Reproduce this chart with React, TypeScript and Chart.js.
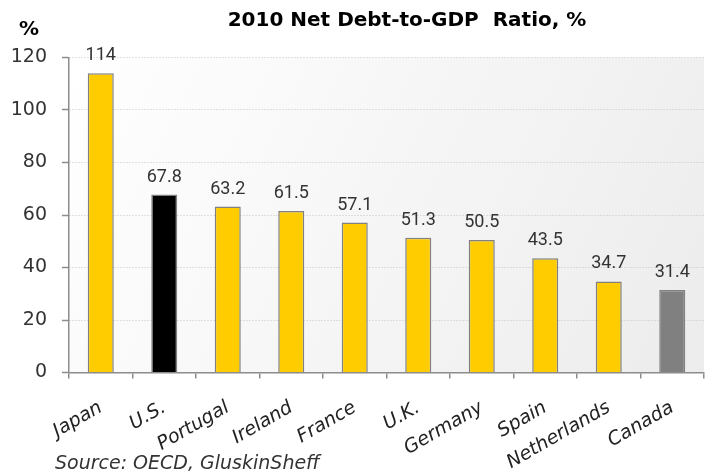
import { useEffect, useRef } from 'react';
import { Chart, registerables } from 'chart.js';

Chart.register(...registerables);

const categories = ['Japan', 'U.S.', 'Portugal', 'Ireland', 'France', 'U.K.', 'Germany', 'Spain', 'Netherlands', 'Canada'];
const values = [114, 67.8, 63.2, 61.5, 57.1, 51.3, 50.5, 43.5, 34.7, 31.4];
const valueLabels = ['114', '67.8', '63.2', '61.5', '57.1', '51.3', '50.5', '43.5', '34.7', '31.4'];
const barColors = ['#FFCC00', '#000000', '#FFCC00', '#FFCC00', '#FFCC00', '#FFCC00', '#FFCC00', '#FFCC00', '#FFCC00', '#808080'];
const yMin = 0;
const yMax = 120;
const yStep = 20;
const titleText = '2010 Net Debt-to-GDP  Ratio, %';
const unitText = '%';
const sourceText = 'Source: OECD, GluskinSheff';

export default function App() {
  const ref = useRef<HTMLCanvasElement | null>(null);

  useEffect(() => {
    if (!ref.current) return;
    const bgPlugin = {
      id: 'bg',
      beforeDraw(chart: any) {
        const { ctx, chartArea: a } = chart;
        ctx.save();
        const g = ctx.createLinearGradient(a.left, a.top, a.right, a.bottom);
        g.addColorStop(0, '#ffffff');
        g.addColorStop(1, '#ececec');
        ctx.fillStyle = g;
        ctx.fillRect(a.left, a.top, a.right - a.left, a.bottom - a.top);
        ctx.restore();
      },
    };
    const textPlugin = {
      id: 'texts',
      afterDatasetsDraw(chart: any) {
        const { ctx } = chart;
        const meta = chart.getDatasetMeta(0);
        ctx.save();
        ctx.fillStyle = '#333333';
        ctx.font = '18px Roboto';
        ctx.textAlign = 'center';
        ctx.textBaseline = 'alphabetic';
        meta.data.forEach((bar: any, i: number) => {
          ctx.fillText(valueLabels[i], bar.x, bar.y - 13);
        });
        ctx.restore();
      },
      afterDraw(chart: any) {
        const { ctx } = chart;
        ctx.save();
        ctx.fillStyle = '#000000';
        ctx.font = 'bold 20px "DejaVu Sans"';
        ctx.textAlign = 'center';
        ctx.textBaseline = 'middle';
        ctx.fillText(titleText, 407, 21);
        ctx.font = 'bold 20px "DejaVu Sans"';
        ctx.fillText(unitText, 29, 30);
        ctx.fillStyle = '#333333';
        ctx.font = 'italic 19px "DejaVu Sans"';
        ctx.textAlign = 'left';
        ctx.textBaseline = 'alphabetic';
        ctx.fillText(sourceText, 55, 469);
        ctx.restore();
      },
    };
    const chart = new Chart(ref.current, {
      type: 'bar',
      data: {
        labels: categories,
        datasets: [
          {
            data: values,
            backgroundColor: barColors,
            borderColor: '#808080',
            borderWidth: 1.5,
            barPercentage: 0.41,
            categoryPercentage: 1,
          },
        ],
      },
      options: {
        animation: false,
        responsive: false,
        devicePixelRatio: 1,
        layout: { padding: { top: 57.5, right: 1, left: 0, bottom: 0 } },
        plugins: { legend: { display: false }, tooltip: { enabled: false }, title: { display: false } },
        scales: {
          x: {
            afterFit: (s: any) => { s.height = 100.5; },
            grid: { offset: true, drawOnChartArea: false, color: '#8c8c8c', lineWidth: 1.5, tickLength: 6 },
            border: { color: '#8c8c8c', width: 1.5 },
            ticks: {
              color: '#222222',
              font: { family: '"DejaVu Sans"', size: 19, style: 'italic' },
              minRotation: 30,
              maxRotation: 30,
              padding: 18,
              autoSkip: false,
            },
          },
          y: {
            min: yMin,
            max: yMax,
            afterFit: (s: any) => { s.width = 69; },
            ticks: {
              stepSize: yStep,
              color: '#333333',
              font: { family: '"DejaVu Sans"', size: 19 },
              padding: 15,
            },
            grid: { color: '#c4c4c4', lineWidth: 1, tickColor: '#8c8c8c', tickLength: 7, tickWidth: 1.5, tickBorderDash: [] },
            border: { color: '#8c8c8c', width: 1.5, dash: [1, 2] },
          },
        },
      },
      plugins: [bgPlugin, textPlugin],
    });
    return () => chart.destroy();
  }, []);

  return (
    <div style={{ position: 'absolute', left: 0, top: 0, width: 705, height: 473, background: '#fff' }}>
      <canvas ref={ref} width={705} height={473} />
    </div>
  );
}
